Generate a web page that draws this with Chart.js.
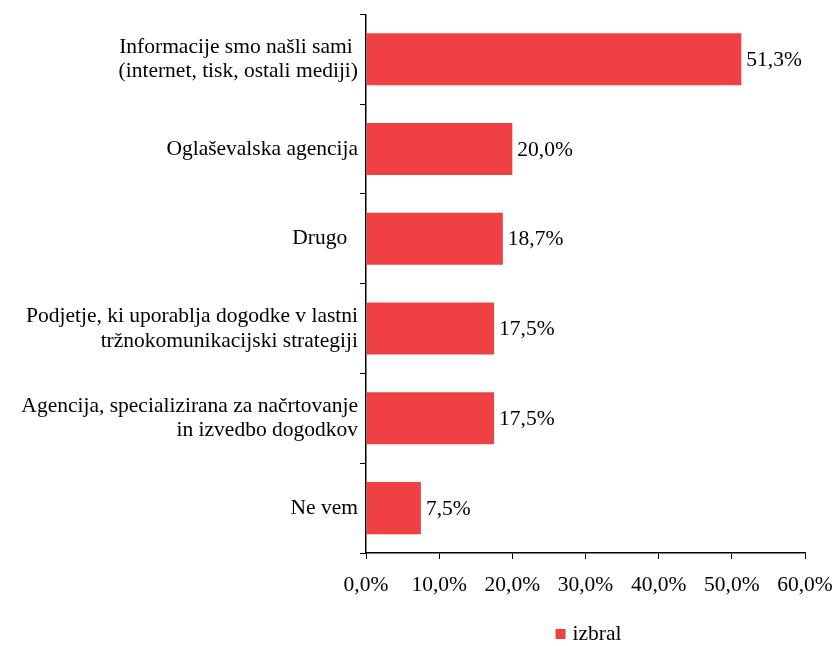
<!DOCTYPE html>
<html>
<head>
<meta charset="utf-8">
<script src="https://cdn.jsdelivr.net/npm/chart.js@4/dist/chart.umd.min.js"></script>
<style>
  html, body { margin: 0; padding: 0; background: #fff; }
  #wrap { width: 838px; height: 646px; }
</style>
</head>
<body>
<div id="wrap"><canvas id="chart" width="838" height="646"></canvas></div>
<script>
var RED = "#EF4044"
var FONT = "'Liberation Serif', 'DejaVu Serif', serif"
var FS = 21.5

var categories = [
  ["Informacije smo našli sami ", "(internet, tisk, ostali mediji)"],
  "Oglaševalska agencija",
  "Drugo  ",
  ["Podjetje, ki uporablja dogodke v lastni", "tržnokomunikacijski strategiji"],
  ["Agencija, specializirana za načrtovanje", "in izvedbo dogodkov"],
  "Ne vem"
]
var values = [51.3, 20.0, 18.7, 17.5, 17.5, 7.5]
var seriesName = "izbral"
var xTicks = [0, 10, 20, 30, 40, 50, 60]

function pct(v) {
  return v.toFixed(1).replace(".", ",") + "%"
}

// value labels at the end of each bar
var barLabels = {
  id: "barLabels",
  afterDatasetsDraw: function(chart) {
    var c = chart.ctx
    var meta = chart.getDatasetMeta(0)
    c.save()
    c.font = FS + "px " + FONT
    c.fillStyle = "#000"
    c.textAlign = "left"
    c.textBaseline = "middle"
    meta.data.forEach(function(bar, i) {
      c.fillText(pct(values[i]), bar.x + 5, bar.y + 1)
    })
    c.restore()
  }
}

// legend under the plot area
var bottomLegend = {
  id: "bottomLegend",
  afterDraw: function(chart) {
    var c = chart.ctx
    var a = chart.chartArea
    c.save()
    c.font = FS + "px " + FONT
    var tw = c.measureText(seriesName).width
    var total = 10 + 7 + tw
    var x0 = (a.left + a.right) / 2 - total / 2 + 3
    var y = 634
    c.fillStyle = RED
    c.fillRect(x0, y - 5, 10, 10)
    c.fillStyle = "#000"
    c.textBaseline = "middle"
    c.textAlign = "left"
    c.fillText(seriesName, x0 + 17, y)
    c.restore()
  }
}

new Chart(document.getElementById("chart"), {
  type: "bar",
  data: {
    labels: categories,
    datasets: [{
      label: seriesName,
      data: values,
      backgroundColor: RED,
      barPercentage: 0.58,
      categoryPercentage: 1.0
    }]
  },
  options: {
    indexAxis: "y",
    responsive: false,
    animation: false,
    layout: { padding: { top: 13, right: 33, left: 0, bottom: 0 } },
    plugins: {
      legend: { display: false },
      tooltip: { enabled: false }
    },
    scales: {
      x: {
        min: 0,
        max: 60,
        afterBuildTicks: function(scale) {
          scale.ticks = xTicks.map(function(v) { return { value: v } })
        },
        afterFit: function(scale) {
          scale.height = 93
          scale.paddingLeft = 0
          scale.paddingRight = 0
        },
        grid: {
          drawOnChartArea: false,
          drawTicks: true,
          tickLength: 6,
          color: "#000"
        },
        border: { color: "#000", width: 1.5 },
        ticks: {
          color: "#000",
          padding: 13,
          font: { family: FONT, size: FS },
          callback: function(v) { return pct(v) }
        }
      },
      y: {
        afterFit: function(scale) { scale.width = 366 },
        grid: {
          offset: true,
          drawOnChartArea: false,
          drawTicks: true,
          tickLength: 6,
          color: "#000"
        },
        border: { color: "#000", width: 1.5 },
        ticks: {
          color: "#000",
          padding: 2,
          font: { family: FONT, size: FS, lineHeight: 1.15 }
        }
      }
    }
  },
  plugins: [barLabels, bottomLegend]
})
</script>
</body>
</html>
